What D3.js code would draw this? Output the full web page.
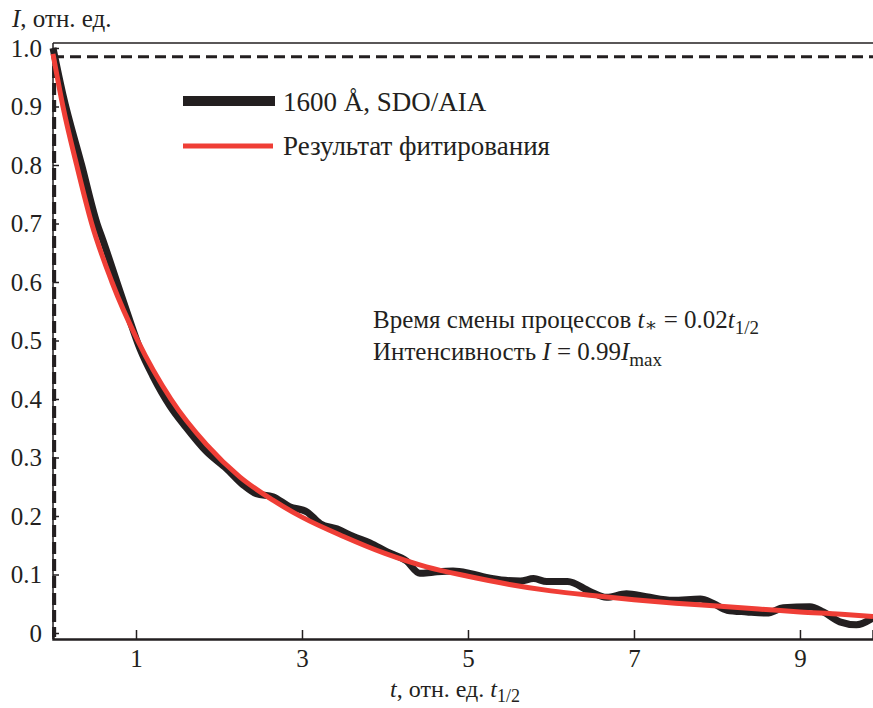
<!DOCTYPE html>
<html lang="ru">
<head>
<meta charset="utf-8" />
<title>Затухание интенсивности 1600 Å</title>
<script src="https://cdn.jsdelivr.net/npm/d3@7"></script>
<style>
  body { margin: 0; background: #fff; }
  svg text { fill: #231f20; }
</style>
</head>
<body>
<svg id="chart" width="873" height="708" font-family="'Liberation Serif', 'Times New Roman', Times, Tinos, 'DejaVu Serif', serif"></svg>
<script>
// observed light curve, 1600 A SDO/AIA (t in units of t1/2, I relative)
var obsT = [0, 0.12, 0.345, 0.53, 0.6, 0.77, 0.9, 1.05, 1.2, 1.41, 1.6, 1.85,
  2.09, 2.3, 2.45, 2.65, 2.85, 3.06, 3.22, 3.42, 3.62, 3.82, 4.02, 4.26, 4.42, 4.58, 4.82, 5.02,
  5.22, 5.45, 5.63, 5.79, 5.95, 6.2, 6.47, 6.67, 6.91, 7.15, 7.47, 7.8, 7.95, 8.12, 8.36, 8.6,
  8.8, 9.12, 9.28, 9.48, 9.68, 9.88];
var obsI = [1.0, 0.92, 0.80, 0.70, 0.672, 0.60, 0.545, 0.485, 0.44, 0.388, 0.352, 0.31,
  0.281, 0.252, 0.238, 0.233, 0.216, 0.207, 0.187, 0.178, 0.165, 0.154, 0.139, 0.123, 0.102, 0.104, 0.106, 0.102,
  0.095, 0.090, 0.089, 0.093, 0.088, 0.088, 0.071, 0.061, 0.067, 0.062, 0.056, 0.058, 0.051, 0.039, 0.036, 0.034,
  0.043, 0.045, 0.036, 0.019, 0.014, 0.026];

// fitted curve
var fitT = [0, 0.12, 0.285, 0.466, 0.71, 1.02, 1.42, 1.85, 2.25, 2.65, 3.0, 3.5, 4.0, 4.5, 5.0,
  5.5, 6.0, 6.5, 7.0, 7.5, 8.0, 8.5, 9.0, 9.5, 9.88];
var fitI = [0.99, 0.90, 0.80, 0.70, 0.60, 0.50, 0.40, 0.322, 0.267, 0.227, 0.198, 0.165, 0.136, 0.113, 0.097,
  0.083, 0.072, 0.064, 0.057, 0.051, 0.046, 0.041, 0.036, 0.032, 0.028];

var xTicks = [1, 3, 5, 7, 9];
var yTicks = [0, 0.1, 0.2, 0.3, 0.4, 0.5, 0.6, 0.7, 0.8, 0.9, 1.0];
var yTickLabels = ["0", "0.1", "0.2", "0.3", "0.4", "0.5", "0.6", "0.7", "0.8", "0.9", "1.0"];

var tSwitch = 0.02, iSwitch = 0.985;

var black = "#231f20", red = "#ef3e36";
var serif = "'Liberation Serif', 'Times New Roman', Times, Tinos, 'DejaVu Serif', serif";

var svg = d3.select("#chart");

var x = d3.scaleLinear().domain([0, 9.88]).range([53, 873]);
var y = d3.scaleLinear().domain([0, 1]).range([633, 48]);
var yTop = 43, yBottom = 639;

// frame
svg.append("line")
  .attr("x1", x(0)).attr("x2", 873).attr("y1", yTop).attr("y2", yTop)
  .attr("stroke", black).attr("stroke-width", 1.5);

// bottom axis
var xAxis = d3.axisBottom(x).tickValues(xTicks).tickSize(-9).tickPadding(12)
  .tickFormat(d3.format("d"));
var gx = svg.append("g").attr("transform", "translate(0," + yBottom + ")").call(xAxis)
  .attr("font-family", serif);
gx.select(".domain").attr("stroke", black).attr("stroke-width", 2.5);
gx.selectAll(".tick line").attr("stroke", black).attr("stroke-width", 1.5);
gx.selectAll(".tick text").attr("font-size", 25).attr("dy", "0.71em").attr("y", 10);

// left axis
var yAxis = d3.axisLeft(y).tickValues(yTicks).tickSize(-6).tickPadding(10)
  .tickFormat(function(d, i) { return yTickLabels[i]; });
var gy = svg.append("g").attr("transform", "translate(" + x(0) + ",0)").call(yAxis)
  .attr("font-family", serif);
gy.select(".domain").remove();
gy.selectAll(".tick line").attr("stroke", black).attr("stroke-width", 1.5);
gy.selectAll(".tick text").attr("font-size", 25).attr("x", -11);
svg.append("line")
  .attr("x1", x(0)).attr("x2", x(0)).attr("y1", yTop).attr("y2", yBottom)
  .attr("stroke", black).attr("stroke-width", 1.5);

// dashed markers
svg.append("line")
  .attr("x1", x(0)).attr("x2", 873).attr("y1", y(iSwitch)).attr("y2", y(iSwitch))
  .attr("stroke", black).attr("stroke-width", 3).attr("stroke-dasharray", "11,6");
svg.append("line")
  .attr("x1", x(tSwitch) - 0.5).attr("x2", x(tSwitch) - 0.5).attr("y1", yTop + 6).attr("y2", yBottom - 2)
  .attr("stroke", black).attr("stroke-width", 4).attr("stroke-dasharray", "12,5");

// curves
var line = d3.line().curve(d3.curveMonotoneX);

svg.append("path")
  .attr("d", line(obsT.map(function(t, i) { return [x(t), y(obsI[i])]; })))
  .attr("fill", "none").attr("stroke", black).attr("stroke-width", 7)
  .attr("stroke-linejoin", "round");

svg.append("path")
  .attr("d", line(fitT.map(function(t, i) { return [x(t), y(fitI[i])]; })))
  .attr("fill", "none").attr("stroke", red).attr("stroke-width", 5)
  .attr("stroke-linejoin", "round");

// legend
var legend = svg.append("g");
legend.append("line").attr("x1", 183).attr("x2", 275).attr("y1", 101).attr("y2", 101)
  .attr("stroke", black).attr("stroke-width", 10);
legend.append("text").attr("x", 283).attr("y", 111).attr("font-size", 27).text("1600 Å, SDO/AIA");
legend.append("line").attr("x1", 183).attr("x2", 273).attr("y1", 146).attr("y2", 146)
  .attr("stroke", red).attr("stroke-width", 5);
legend.append("text").attr("x", 283).attr("y", 155).attr("font-size", 27).text("Результат фитирования");

// annotation
var note1 = svg.append("text").attr("x", 373).attr("y", 328).attr("font-size", 25);
note1.append("tspan").text("Время смены процессов ");
note1.append("tspan").attr("font-style", "italic").text("t");
note1.append("tspan").attr("font-size", 19).attr("dy", 3).text("∗");
note1.append("tspan").attr("dy", -3).text(" = 0.02");
note1.append("tspan").attr("font-style", "italic").text("t");
note1.append("tspan").attr("font-size", 19).attr("dy", 6).text("1/2");

var note2 = svg.append("text").attr("x", 373).attr("y", 360).attr("font-size", 25);
note2.append("tspan").text("Интенсивность ");
note2.append("tspan").attr("font-style", "italic").text("I");
note2.append("tspan").text(" = 0.99");
note2.append("tspan").attr("font-style", "italic").text("I");
note2.append("tspan").attr("font-size", 19).attr("dy", 6).text("max");

// axis titles
var yt = svg.append("text").attr("x", 12).attr("y", 27).attr("font-size", 25);
yt.append("tspan").attr("font-style", "italic").text("I");
yt.append("tspan").text(", отн. ед.");

var xt = svg.append("text").attr("x", 455).attr("y", 697).attr("font-size", 24)
  .attr("text-anchor", "middle");
xt.append("tspan").attr("font-style", "italic").text("t");
xt.append("tspan").text(", отн. ед. ");
xt.append("tspan").attr("font-style", "italic").text("t");
xt.append("tspan").attr("font-size", 18).attr("dy", 5).text("1/2");
</script>
</body>
</html>
